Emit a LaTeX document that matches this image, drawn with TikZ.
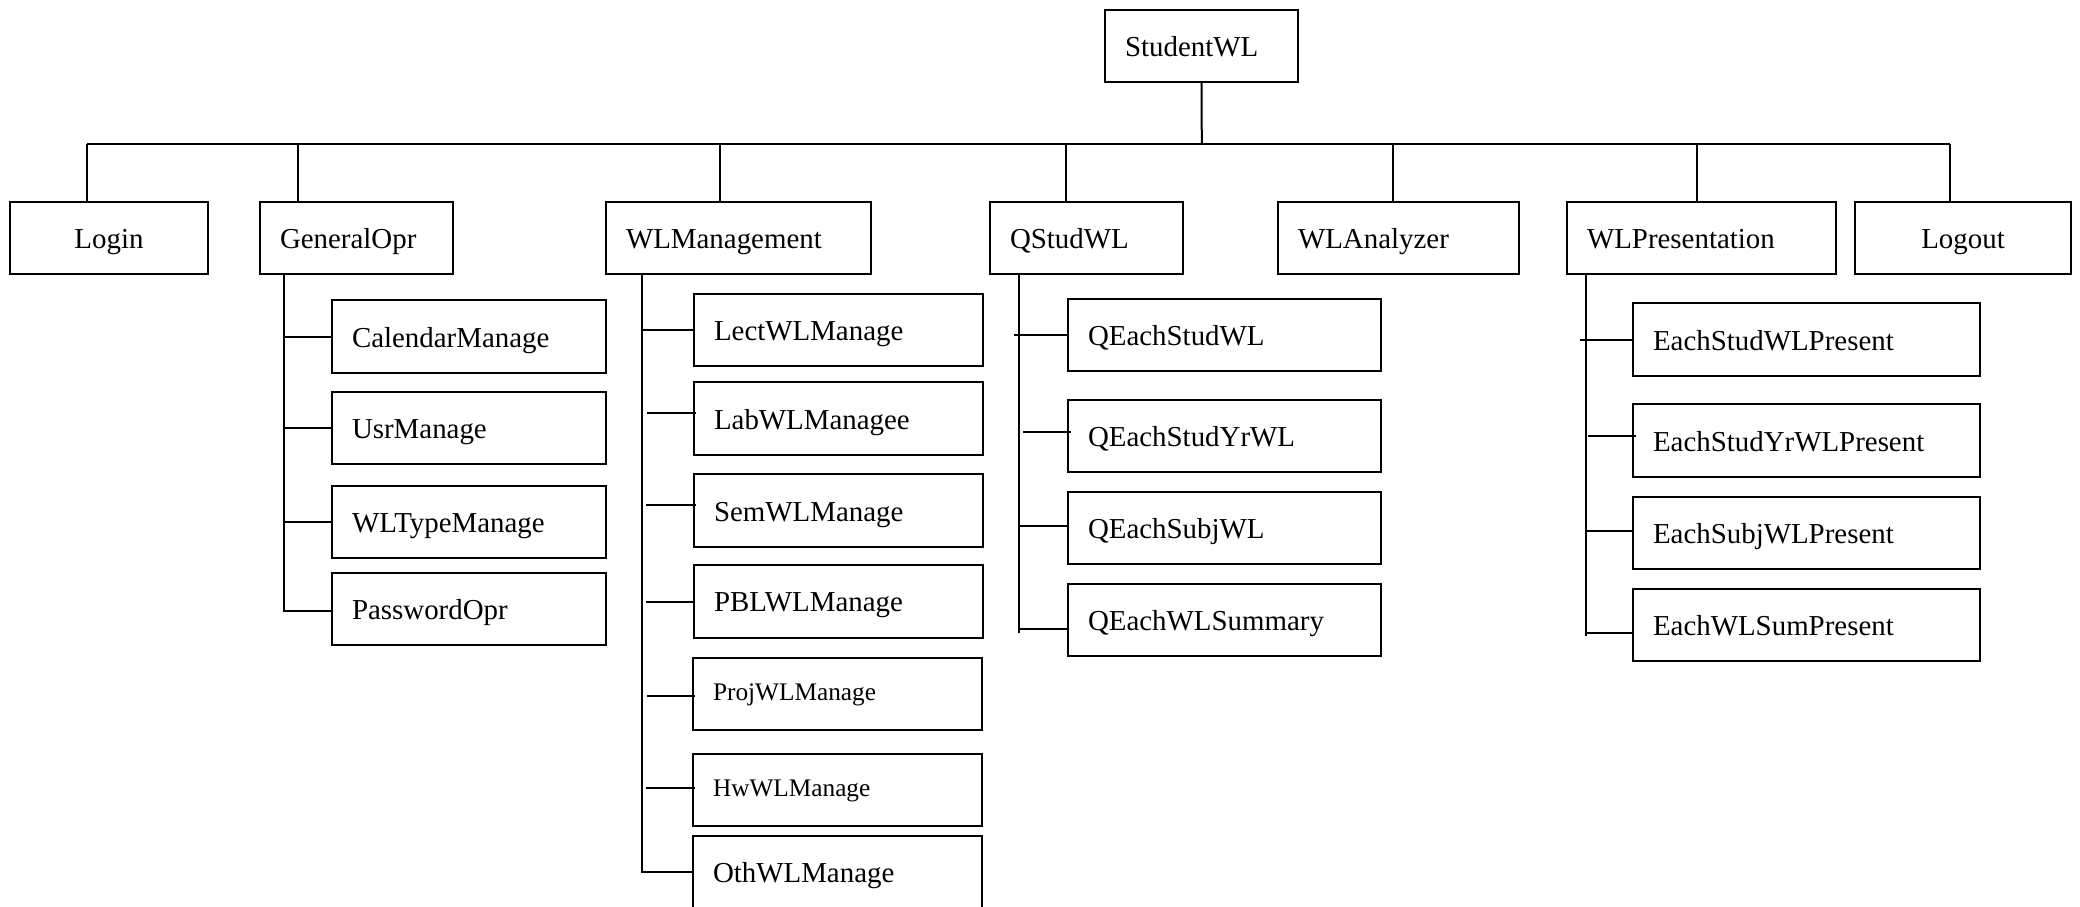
\documentclass[tikz,border=0pt]{standalone}
\usepackage{fontspec}
\setmainfont{Liberation Serif}
\usetikzlibrary{calc}
\newcommand\mainsz{\fontsize{14.45pt}{17pt}\selectfont}
\newcommand\smallsz{\fontsize{12.65pt}{15pt}\selectfont}
\begin{document}
\begin{tikzpicture}[x=0.5pt,y=-0.5pt,line width=1pt,
 wbox/.style={draw, line width=1pt, inner xsep=10pt, inner ysep=0pt, align=left,
   minimum height=36.2pt, font=\mainsz, text height=11pt, text depth=0.4pt},
 sbox/.style={wbox, font=\smallsz, text height=9pt, text depth=2.8pt},
 cbox/.style={wbox, align=center},
 link/.style={draw, line width=1pt}]
\useasboundingbox (0,0) rectangle (2080,906);
% root
\node[wbox, text width=76.5pt] (StudentWL) at (1201.5,46) {StudentWL};
% level 1
\node[cbox, text width=79pt]    (Login)          at (109,237.8)    {Login};
\node[wbox, text width=76.5pt]  (GeneralOpr)     at (356.5,237.8)  {GeneralOpr};
\node[wbox, text width=112.5pt] (WLManagement)   at (738.5,237.8)  {WLManagement};
\node[wbox, text width=76.5pt]  (QStudWL)        at (1086.5,237.8) {QStudWL};
\node[wbox, text width=100.5pt] (WLAnalyzer)     at (1398.5,237.8) {WLAnalyzer};
\node[wbox, text width=114.5pt] (WLPresentation) at (1701.5,237.8) {WLPresentation};
\node[cbox, text width=88pt]    (Logout)         at (1963,237.8)   {Logout};
% GeneralOpr children
\node[wbox, text width=117pt] (CalendarManage) at (469,336.5) {CalendarManage};
\node[wbox, text width=117pt] (UsrManage)      at (469,428.2) {UsrManage};
\node[wbox, text width=117pt] (WLTypeManage)   at (469,521.7) {WLTypeManage};
\node[wbox, text width=117pt] (PasswordOpr)    at (469,608.8) {PasswordOpr};
% WLManagement children
\node[wbox, text width=124.5pt] (LectWLManage) at (838.5,330)   {LectWLManage};
\node[wbox, text width=124.5pt] (LabWLManagee) at (838.5,418.5) {LabWLManagee};
\node[wbox, text width=124.5pt] (SemWLManage)  at (838.5,510.5) {SemWLManage};
\node[wbox, text width=124.5pt] (PBLWLManage)  at (838.5,601.3) {PBLWLManage};
\node[sbox, text width=124.5pt] (ProjWLManage) at (837.5,693.8) {ProjWLManage};
\node[sbox, text width=124.5pt] (HwWLManage)   at (837.5,790)   {HwWLManage};
\node[wbox, text width=124.5pt] (OthWLManage)  at (837.5,872)   {OthWLManage};
% QStudWL children
\node[wbox, text width=136.5pt] (QEachStudWL)    at (1224.5,334.8) {QEachStudWL};
\node[wbox, text width=136.5pt] (QEachStudYrWL)  at (1224.5,435.8) {QEachStudYrWL};
\node[wbox, text width=136.5pt] (QEachSubjWL)    at (1224.5,528)   {QEachSubjWL};
\node[wbox, text width=136.5pt] (QEachWLSummary) at (1224.5,619.8) {QEachWLSummary};
% WLPresentation children
\node[wbox, text width=153.5pt] (EachStudWLPresent)   at (1806.5,339.5) {EachStudWLPresent};
\node[wbox, text width=153.5pt] (EachStudYrWLPresent) at (1806.5,440.5) {EachStudYrWLPresent};
\node[wbox, text width=153.5pt] (EachSubjWLPresent)   at (1806.5,532.8) {EachSubjWLPresent};
\node[wbox, text width=153.5pt] (EachWLSumPresent)    at (1806.5,624.7) {EachWLSumPresent};

% top-level bus
\coordinate (bus) at (1201.8,144);
\foreach \n/\o in {Login/77.5, GeneralOpr/38.7, WLManagement/115.4, QStudWL/77,
                   WLAnalyzer/115.7, WLPresentation/130.5, Logout/95.8}{
  \path ($(\n.north west)+(\o,0)$) coordinate (s\n);
  \draw[link] (s\n) -- (s\n |- bus);
}
\draw[link] (sLogin |- bus) -- (sLogout |- bus);
\draw[link] (StudentWL.south) -- (bus);

% GeneralOpr subtree
\path ($(GeneralOpr.south west)+(24.8,0)$) coordinate (gv);
\draw[link] (gv) |- ($(PasswordOpr.west)+(0,2)$);
\foreach \c in {CalendarManage,UsrManage,WLTypeManage}
  \draw[link] (\c.west) -- (\c.west -| gv);

% WLManagement subtree
\path ($(WLManagement.south west)+(36.8,0)$) coordinate (wv);
\draw[link] (wv) |- (OthWLManage.west);
\draw[link] (LectWLManage.west) -- (LectWLManage.west -| wv);
\draw[link] ($(LabWLManagee.west)+(3,-5.2)$) -- ++(-49,0);
\draw[link] ($(SemWLManage.west)+(3,-5.5)$) -- ++(-50,0);
\draw[link] ($(PBLWLManage.west)+(0,0.7)$) -- ++(-47.5,0);
\draw[link] ($(ProjWLManage.west)+(3,1.9)$) -- ++(-48,0);
\draw[link] ($(HwWLManage.west)+(3,-2)$) -- ++(-49,0);

% QStudWL subtree
\path ($(QStudWL.south west)+(30,0)$) coordinate (qv);
\draw[link] (qv) -- ++(0,357.7);
\draw[link] (QEachStudWL.west) -- ++(-53,0);
\draw[link] ($(QEachStudYrWL.west)+(4,-4)$) -- ++(-48,0);
\draw[link] ($(QEachSubjWL.west)+(0,-2)$) -- ++(-48,0);
\draw[link] ($(QEachWLSummary.west)+(0,8.7)$) -- ++(-48,0);

% WLPresentation subtree
\path ($(WLPresentation.south west)+(19.5,0)$) coordinate (pv);
\draw[link] (pv) -- ++(0,361);
\draw[link] (EachStudWLPresent.west) -- ++(-52,0);
\draw[link] ($(EachStudYrWLPresent.west)+(4,-4.8)$) -- ++(-48,0);
\draw[link] ($(EachSubjWLPresent.west)+(0,-1.8)$) -- ++(-46.5,0);
\draw[link] ($(EachWLSumPresent.west)+(0,8)$) -- ++(-46.5,0);
\end{tikzpicture}
\end{document}
